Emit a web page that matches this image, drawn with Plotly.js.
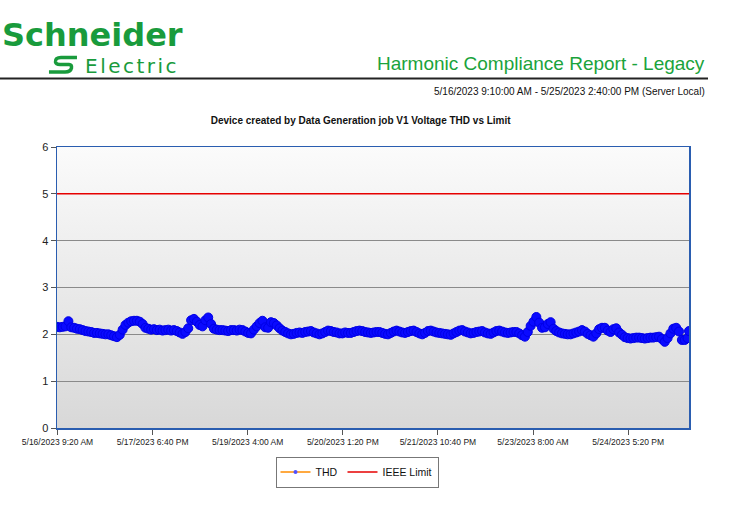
<!DOCTYPE html>
<html>
<head>
<meta charset="utf-8">
<script src="https://cdn.plot.ly/plotly-3.0.1.min.js"></script>
<style>
html,body{margin:0;padding:0;background:#fff;}
#chart{width:753px;height:516px;}
</style>
</head>
<body>
<div id="chart"></div>
<script>
// ---- data ----
var startTime = '2023-05-16T09:10:00';
var endTime = '2023-05-25T14:40:00';
var sampleStepHours = 1;
var thdValues = [
  2.16, 2.15, 2.16, 2.17, 2.28, 2.15, 2.14, 2.12, 2.11, 2.09,
  2.07, 2.06, 2.05, 2.03, 2.03, 2.02, 2.01, 2.00, 2.00, 1.98,
  1.96, 1.94, 1.99, 2.10, 2.20, 2.25, 2.28, 2.29, 2.29, 2.27,
  2.22, 2.14, 2.12, 2.10, 2.11, 2.09, 2.10, 2.08, 2.09, 2.10,
  2.08, 2.09, 2.07, 2.04, 2.01, 2.05, 2.13, 2.30, 2.33, 2.27,
  2.20, 2.17, 2.30, 2.36, 2.22, 2.12, 2.10, 2.09, 2.09, 2.08,
  2.07, 2.09, 2.09, 2.08, 2.10, 2.09, 2.06, 2.03, 2.02, 2.10,
  2.17, 2.24, 2.29, 2.15, 2.14, 2.26, 2.24, 2.19, 2.13, 2.08,
  2.05, 2.02, 2.00, 2.01, 2.03, 2.04, 2.03, 2.05, 2.06, 2.07,
  2.04, 2.02, 2.00, 2.02, 2.05, 2.08, 2.07, 2.05, 2.04, 2.02,
  2.02, 2.04, 2.03, 2.03, 2.05, 2.07, 2.08, 2.07, 2.05, 2.04,
  2.03, 2.04, 2.05, 2.05, 2.03, 2.01, 2.00, 2.03, 2.06, 2.08,
  2.06, 2.04, 2.03, 2.05, 2.07, 2.08, 2.05, 2.02, 2.00, 2.03,
  2.07, 2.08, 2.06, 2.04, 2.03, 2.02, 2.01, 2.00, 1.99, 2.02,
  2.05, 2.08, 2.09, 2.06, 2.04, 2.02, 2.03, 2.05, 2.06, 2.07,
  2.04, 2.02, 2.01, 2.04, 2.07, 2.08, 2.06, 2.04, 2.03, 2.04,
  2.05, 2.05, 2.02, 1.98, 1.95, 2.05, 2.18, 2.27, 2.37, 2.25,
  2.14, 2.15, 2.22, 2.26, 2.12, 2.07, 2.04, 2.02, 2.01, 2.00,
  2.00, 2.02, 2.04, 2.06, 2.09, 2.06, 2.01, 1.98, 1.95, 2.02,
  2.11, 2.14, 2.14, 2.08, 2.05, 2.11, 2.13, 2.04, 1.99, 1.94,
  1.92, 1.91, 1.92, 1.93, 1.93, 1.92, 1.91, 1.92, 1.93, 1.93,
  1.94, 1.95, 1.90, 1.84, 1.92, 2.02, 2.12, 2.14, 2.06, 1.88,
  1.88, 1.92
];
var thdLastValue = 2.07;
var limitValues = [5, 5];
var tickDates = ['2023-05-16 09:20','2023-05-17 18:40','2023-05-19 04:00','2023-05-20 13:20','2023-05-21 22:40','2023-05-23 08:00','2023-05-24 17:20'];
var tickLabels = ['5/16/2023 9:20 AM','5/17/2023 6:40 PM','5/19/2023 4:00 AM','5/20/2023 1:20 PM','5/21/2023 10:40 PM','5/23/2023 8:00 AM','5/24/2023 5:20 PM'];
var yTicks = [0,1,2,3,4,5,6];

// ---- build time stamps ----
function fmt(d){
  function p(n){return (n<10?'0':'')+n;}
  return d.getFullYear()+'-'+p(d.getMonth()+1)+'-'+p(d.getDate())+' '+p(d.getHours())+':'+p(d.getMinutes());
}
var t0 = new Date(startTime);
var thdTimes = thdValues.map(function(v,i){return fmt(new Date(t0.getTime()+i*sampleStepHours*3600000));});
thdTimes.push(fmt(new Date(endTime)));
var thdAll = thdValues.concat([thdLastValue]);
var limitTimes = [fmt(new Date(startTime)), fmt(new Date(endTime))];

var green = '#199b3c';
var svgGrad = '<svg xmlns="http://www.w3.org/2000/svg" width="10" height="100" preserveAspectRatio="none"><defs><linearGradient id="g" x1="0" y1="0" x2="0" y2="1"><stop offset="0" stop-color="#fbfbfb"/><stop offset="1" stop-color="#d8d8d8"/></linearGradient></defs><rect width="10" height="100" fill="url(#g)"/></svg>';

var traces = [
  {x: thdTimes, y: thdAll, type:'scatter', mode:'lines+markers', name:'THD', showlegend:false, legendgroup:'thd',
   line:{color:'#ff8c00', width:1},
   marker:{color:'#0a0aff', size:9, line:{color:'#0000e6', width:1}}},
  {x:[null], y:[null], type:'scatter', mode:'lines+markers', name:'THD', legendgroup:'thd',
   line:{color:'#ff8c00', width:1.5}, marker:{color:'#5050ff', size:4}},
  {x: limitTimes, y: limitValues, type:'scatter', mode:'lines', name:'IEEE Limit',
   line:{color:'#e60000', width:1.5}}
];

function px(x){return (x-57)/632;}
function py(y){return (428-y)/281;}
function pathOf(pts){
  return pts.map(function(p){return p[0]+' '+px(p[1]).toFixed(4)+','+py(p[2]).toFixed(4);}).join(' ');
}
// stylised logo mark (italic S)
var iconPath = pathOf([['M',77,57.5],['L',61,57.5],['Q',55,57.5],['',55.5,62],['Q',56,64.5],['',60,64.5],['L',69,64.5],['Q',72,64.5],['',71.5,68],['Q',70.5,72],['',65,72],['L',49,72]]);

var layout = {
  width:753, height:516,
  margin:{l:57, r:64, t:147, b:88},
  paper_bgcolor:'#ffffff', plot_bgcolor:'rgba(0,0,0,0)',
  font:{family:'Liberation Sans, Arial, sans-serif', color:'#222'},
  title:{text:'<b>Device created by Data Generation job V1 Voltage THD vs Limit</b>',
    font:{size:10, color:'#111', family:'Liberation Sans, Arial, sans-serif'},
    x:0.479, xanchor:'center', xref:'container', y:1-120/516, yanchor:'middle', yref:'container'},
  xaxis:{type:'date', range:[limitTimes[0], limitTimes[1]], tickvals:tickDates, ticktext:tickLabels,
    showgrid:false, zeroline:false, showline:true, mirror:true, linecolor:'#2a5db0', linewidth:1.5,
    ticks:'outside', ticklen:5, tickcolor:'#555', tickwidth:1,
    tickfont:{size:8.5, color:'#222', family:'Liberation Sans Narrow, Arial Narrow, Liberation Sans, sans-serif'}},
  yaxis:{range:[0,6], tickvals:yTicks, showgrid:true, gridcolor:'#8a8a8a', gridwidth:1, zeroline:false,
    showline:true, mirror:true, linecolor:'#2a5db0', linewidth:1.5,
    ticks:'outside', ticklen:5, tickcolor:'#555', tickwidth:1,
    tickfont:{size:11, color:'#222'}},
  legend:{orientation:'h', x:px(357), xanchor:'center', y:py(472), yanchor:'middle',
    bordercolor:'#777', borderwidth:1, bgcolor:'#fff', font:{size:10.5, color:'#111'}},
  images:[{source:'data:image/svg+xml;utf8,'+encodeURIComponent(svgGrad), xref:'paper', yref:'paper',
    x:0, y:1, sizex:1, sizey:1, xanchor:'left', yanchor:'top', sizing:'stretch', layer:'below'}],
  shapes:[
    {type:'line', xref:'paper', yref:'paper', x0:px(0), x1:px(708), y0:py(78.5), y1:py(78.5), line:{color:'#222', width:2}},
    {type:'path', xref:'paper', yref:'paper', path:iconPath, line:{color:green, width:3.5}}
  ],
  annotations:[
    {text:'<b>Schneider</b>', xref:'paper', yref:'paper', x:px(0), y:py(35), xanchor:'left', yanchor:'middle', showarrow:false,
      font:{family:'DejaVu Sans, sans-serif', size:32, color:green}},
    {text:'<span style="letter-spacing:2.5px">Electric</span>', xref:'paper', yref:'paper', x:px(83), y:py(66), xanchor:'left', yanchor:'middle', showarrow:false,
      font:{family:'DejaVu Sans, sans-serif', size:20, color:green}},
    {text:'Harmonic Compliance Report - Legacy', xref:'paper', yref:'paper', x:px(707), y:py(63), xanchor:'right', yanchor:'middle', showarrow:false,
      font:{size:19, color:'#1aa33b'}},
    {text:'5/16/2023 9:10:00 AM - 5/25/2023 2:40:00 PM (Server Local)', xref:'paper', yref:'paper', x:px(707), y:py(91), xanchor:'right', yanchor:'middle', showarrow:false,
      font:{size:10, color:'#111'}}
  ]
};

Plotly.newPlot('chart', traces, layout, {displayModeBar:false, staticPlot:true});
</script>
</body>
</html>
